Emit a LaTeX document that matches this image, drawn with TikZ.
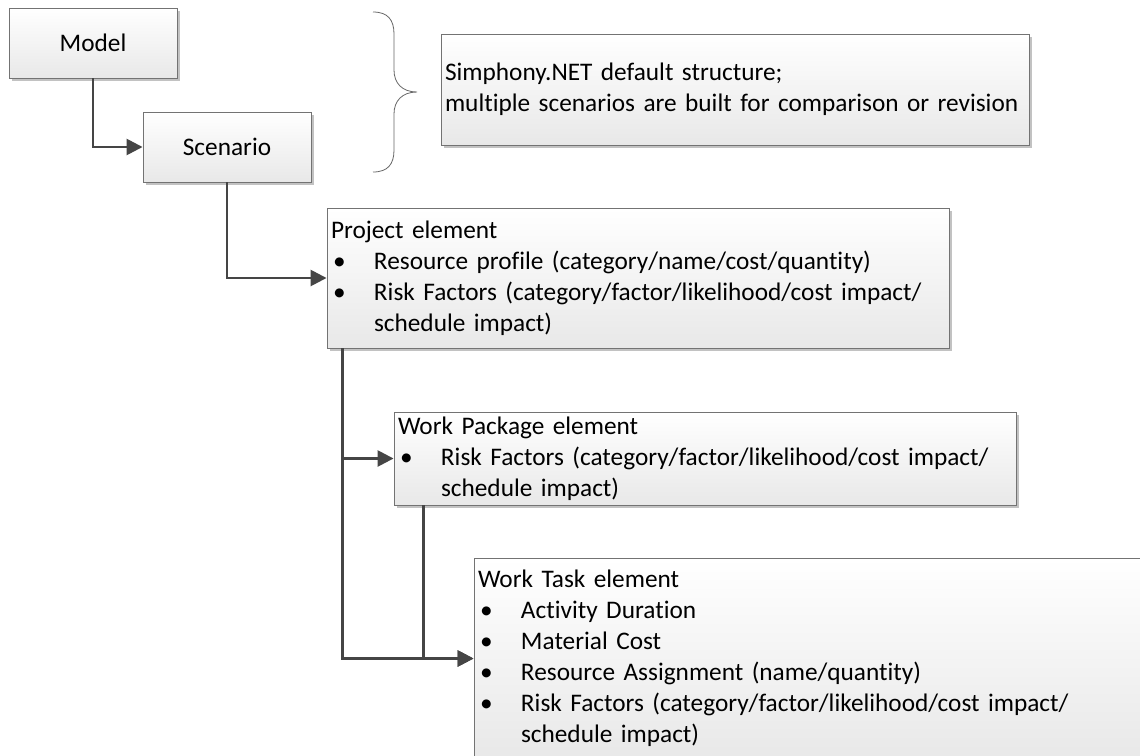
\documentclass[tikz,border=0pt]{standalone}
\usepackage{fontspec}
\setmainfont{Carlito}[Ligatures={NoCommon}]
\usetikzlibrary{arrows.meta,shadows}

% bullet with hanging indent, and indent for wrapped continuation lines
\newcommand\blt{\makebox[43pt][l]{\hspace{2pt}\textbullet}}
\newcommand\cont{\hspace*{43pt}}

\begin{document}
\begin{tikzpicture}[x=1pt,y=-1pt,
  box/.style={rectangle, draw=black!55, line width=0.9pt,
    top color=white, bottom color=black!9,
    drop shadow={shadow xshift=3pt, shadow yshift=-3pt, fill=black!24, opacity=1},
    inner xsep=4pt, inner ysep=0pt, font=\fontsize{25.3}{31}\selectfont},
  textbox/.style={box, align=left, execute at begin node={\hyphenpenalty=10000}},
  link/.style={draw=black!73, line width=2.6pt, -{Triangle[length=16pt,width=16pt]}},
  brace/.style={draw=black!60, line width=0.8pt},
]
\clip (0,0) rectangle (1140,755);
\fill[white] (0,0) rectangle (1140,755);

% top level
\node[box, minimum width=168pt, minimum height=70pt] (model) at (93,43) {Model};
\node[box, minimum width=168pt, minimum height=70pt] (scenario) at (227,147) {Scenario};

% curly brace and its note
\draw[brace] (373,12) .. controls (388,12) and (394,20) .. (394,34)
  -- (394,70) .. controls (394,83) and (402,92) .. (417,92)
  .. controls (402,92) and (394,101) .. (394,114)
  -- (394,150) .. controls (394,164) and (388,172) .. (373,172);
\node[textbox, text width=580pt, minimum width=588pt, minimum height=111pt] (note) at (735,89.5)
  {Simphony.NET default structure;\\multiple scenarios are built for comparison or revision};

% element boxes
\node[textbox, text width=614pt, minimum width=622pt, minimum height=140pt] (project) at (638,278)
  {Project element\\
   \blt Resource profile (category/name/cost/quantity)\\
   \blt Risk Factors (category/factor/likelihood/cost impact/\\
   \cont schedule impact)};

\node[textbox, text width=614pt, minimum width=622pt, minimum height=93pt] (wp) at (705,458.5)
  {Work Package element\\
   \blt Risk Factors (category/factor/likelihood/cost impact/\\
   \cont schedule impact)};

\node[textbox, text width=712pt, minimum width=720pt, minimum height=201pt] (wt) at (834,658.5)
  {Work Task element\\
   \blt Activity Duration\\
   \blt Material Cost\\
   \blt Resource Assignment (name/quantity)\\
   \blt Risk Factors (category/factor/likelihood/cost impact/\\
   \cont schedule impact)};

% connectors
\draw[link] (model.south) |- (scenario.west);
\draw[link] (scenario.south) |- (project.west);
\coordinate (pdrop) at ([xshift=16pt]project.south west);
\coordinate (wdrop) at ([xshift=30pt]wp.south west);
\draw[link] (pdrop) |- (wp.west);
\draw[link] (pdrop) |- (wt.west);
\draw[link] (wdrop) |- (wt.west);
\end{tikzpicture}
\end{document}
